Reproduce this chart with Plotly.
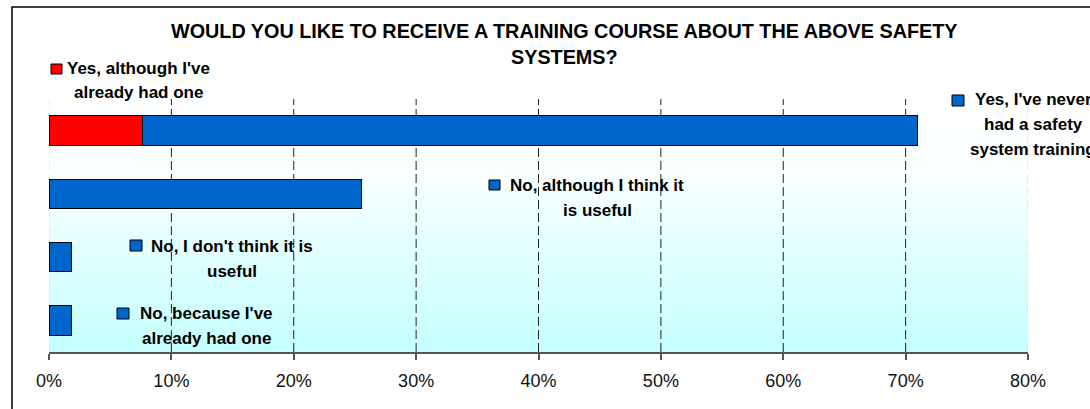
import base64
import plotly.graph_objects as go

# ---------------- data ----------------
rows = ["Yes", "No, useful", "No, not useful", "No, had one"]
series_labels = [
    "Yes, although I've already had one",
    "Yes, I've never had a safety system training",
    "No, although I think it is useful",
    "No, I don't think it is useful",
    "No, because I've already had one",
]
series_rows = ["Yes", "Yes", "No, useful", "No, not useful", "No, had one"]
series_values = [7.6, 63.4, 25.5, 1.8, 1.8]
series_colors = ["#FF0000", "#0066CC", "#0066CC", "#0066CC", "#0066CC"]
tick_values = [0, 10, 20, 30, 40, 50, 60, 70, 80]
grid_values = [10, 20, 30, 40, 50, 60, 70]
edge_grid_values = [0, 80]
title_lines = ["WOULD YOU LIKE TO RECEIVE A TRAINING COURSE ABOUT THE ABOVE SAFETY",
               "SYSTEMS?"]
# legend label lines (wrapped as in the picture)
legend_lines = [
    ["Yes, although I've", "already had one"],
    ["Yes, I've never", "had a safety", "system training"],
    ["No, although I think it", "is useful"],
    ["No, I don't think it is", "useful"],
    ["No, because I've", "already had one"],
]

# ---------------- layout geometry (pixels) ----------------
W, H = 1090, 409
ML, MR, MT, MB = 49, 62, 99, 57
PW, PH = W - ML - MR, H - MT - MB


def px(x):
    return (x - ML) / PW


def py(y):
    return (H - MB - y) / PH


# legend block placement: (text centre x, first line y, square x0, x1, y0, y1)
legend_pos = [
    (138, 68, 51, 62, 64, 74),
    (1033, 99, 952, 964, 95, 106),
    (597, 185, 489, 500, 180, 190),
    (232, 246, 130, 142, 240, 251),
    (206, 313, 117, 129, 308, 319),
]
line_step = 25

FONT = "Arial, Liberation Sans, sans-serif"

fig = go.Figure()
for lab, r, v, c in zip(series_labels, series_rows, series_values, series_colors):
    fig.add_trace(go.Bar(
        x=[v], y=[r], orientation="h", name=lab,
        marker=dict(color=c, line=dict(color="#000000", width=1)),
        showlegend=False, hoverinfo="x+name",
    ))

# gradient background for the plot area
svg = ('<svg xmlns="http://www.w3.org/2000/svg" width="10" height="100" viewBox="0 0 10 100" '
       'preserveAspectRatio="none"><defs><linearGradient id="g" x1="0" y1="0" x2="0" y2="1">'
       '<stop offset="0" stop-color="#FFFFFF"/><stop offset="0.3" stop-color="#FAFFFF"/>'
       '<stop offset="1" stop-color="#C4FFFF"/></linearGradient></defs>'
       '<rect x="0" y="0" width="10" height="100" fill="url(#g)"/></svg>')
src = "data:image/svg+xml;base64," + base64.b64encode(svg.encode()).decode()

annotations = []
for i, line in enumerate(title_lines):
    annotations.append(dict(
        text="<b>%s</b>" % line, xref="paper", yref="paper",
        x=px(564), y=py(31 + 26 * i), xanchor="center", yanchor="middle",
        showarrow=False, font=dict(family=FONT, size=19.8, color="#000000")))

shapes = [dict(type="rect", xref="paper", yref="paper",
               x0=px(12), x1=px(W + 50), y0=py(7), y1=py(H + 50),
               line=dict(color="#000000", width=1.5), fillcolor="rgba(0,0,0,0)",
               layer="above")]

# dashed vertical gridlines, placed through the x scale, behind the bars
for g in grid_values:
    shapes.append(dict(type="line", xref="x", yref="paper", x0=g, x1=g, y0=0, y1=1,
                       line=dict(color="#222222", width=1, dash="9px,4px"), layer="below"))
for g in edge_grid_values:
    shapes.append(dict(type="line", xref="x", yref="paper", x0=g, x1=g, y0=0, y1=1,
                       line=dict(color="#E2DADA", width=1, dash="9px,4px"), layer="below"))

for lines, pos, col in zip(legend_lines, legend_pos, series_colors):
    cx, y0, sx0, sx1, sy0, sy1 = pos
    shapes.append(dict(type="rect", xref="paper", yref="paper",
                       x0=px(sx0), x1=px(sx1), y0=py(sy0), y1=py(sy1),
                       fillcolor=col, line=dict(color="#000000", width=1), layer="above"))
    for j, t in enumerate(lines):
        annotations.append(dict(
            text="<b>%s</b>" % t, xref="paper", yref="paper",
            x=px(cx), y=py(y0 + line_step * j), xanchor="center", yanchor="middle",
            showarrow=False, font=dict(family=FONT, size=17, color="#000000")))

fig.update_layout(
    width=W, height=H,
    margin=dict(l=ML, r=MR, t=MT, b=MB, pad=0),
    paper_bgcolor="#FFFFFF", plot_bgcolor="rgba(0,0,0,0)",
    barmode="stack", bargap=0.53,
    images=[dict(source=src, xref="paper", yref="paper", x=0, y=1, sizex=1, sizey=1,
                 xanchor="left", yanchor="top", sizing="stretch", layer="below")],
    xaxis=dict(range=[0, 80], tickmode="array", tickvals=tick_values,
               ticktext=["%d%%" % v for v in tick_values],
               showgrid=False, zeroline=False, showline=True,
               linecolor="#555555", linewidth=1.5,
               ticks="outside", ticklen=6, tickcolor="#555555", tickwidth=1.5,
               ticklabelstandoff=6,
               tickfont=dict(family=FONT, size=18, color="#111111")),
    yaxis=dict(type="category", categoryorder="array", categoryarray=rows,
               range=[3.5, -0.5], showticklabels=False, ticks="",
               showgrid=False, zeroline=False, showline=False),
    annotations=annotations, shapes=shapes,
)

fig.write_html("out.html", config={"displayModeBar": False},
               post_script="document.body.style.margin='0';document.body.style.overflow='hidden';")
